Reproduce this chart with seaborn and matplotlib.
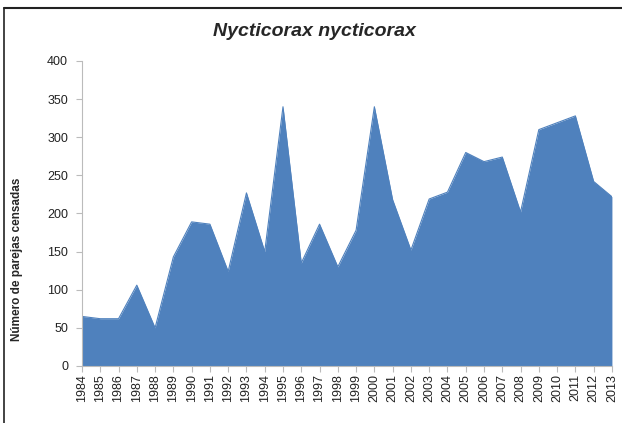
import numpy as np
import pandas as pd
import seaborn as sns
import matplotlib.pyplot as plt
from matplotlib.lines import Line2D

# Data
years = list(range(1984, 2014))
parejas = [65, 62, 62, 106, 50, 143, 189, 186, 124, 227,
           150, 340, 135, 186, 130, 178, 340, 218, 152, 219,
           228, 280, 268, 274, 202, 310, 319, 328, 242, 222]

df = pd.DataFrame({"year": years, "parejas": parejas})

sns.set_style("white")
plt.rcParams["font.family"] = ["Liberation Sans", "DejaVu Sans"]

fig = plt.figure(figsize=(6.22, 4.23), dpi=100)
ax = fig.add_axes([0.1318, 0.1348, 0.852, 0.721])

blue = "#4F81BD"
sns.lineplot(data=df, x="year", y="parejas", ax=ax, color=blue, linewidth=0.8)
ax.fill_between(df["year"], df["parejas"], 0, color=blue, linewidth=0)

ax.set_xlim(1984, 2013)
ax.set_ylim(0, 400)
ax.set_xticks(years)
ax.set_xticklabels([str(y) for y in years], rotation=90, fontsize=9,
                   color="#222222")
ax.set_yticks(range(0, 401, 50))
ax.set_yticklabels([str(v) for v in range(0, 401, 50)], fontsize=9,
                   color="#222222")

for s in ["top", "right"]:
    ax.spines[s].set_visible(False)
ax.spines["left"].set_color("#BBBBBB")
ax.spines["bottom"].set_color("#BBBBBB")
ax.tick_params(axis="both", direction="out", length=4, color="#BBBBBB",
               width=0.8, pad=2, bottom=True, left=True)
ax.tick_params(axis="y", pad=6)

ax.set_xlabel("")
ax.set_ylabel("Número de parejas censadas", fontsize=8.5, fontweight="bold")
ax.yaxis.set_label_coords(-0.111, 0.35)

fig.text(0.505, 0.925, "Nycticorax nycticorax", ha="center", va="center",
         fontsize=14, fontweight="bold", fontstyle="italic")

# outer frame (left and top edges)
fig.add_artist(Line2D([0.0065, 0.0065], [0, 0.981], color="#222222", lw=1.2,
                      transform=fig.transFigure))
fig.add_artist(Line2D([0.0065, 1.0], [0.981, 0.981], color="#222222", lw=1.5,
                      transform=fig.transFigure))

fig.savefig("out.png", dpi=100)
